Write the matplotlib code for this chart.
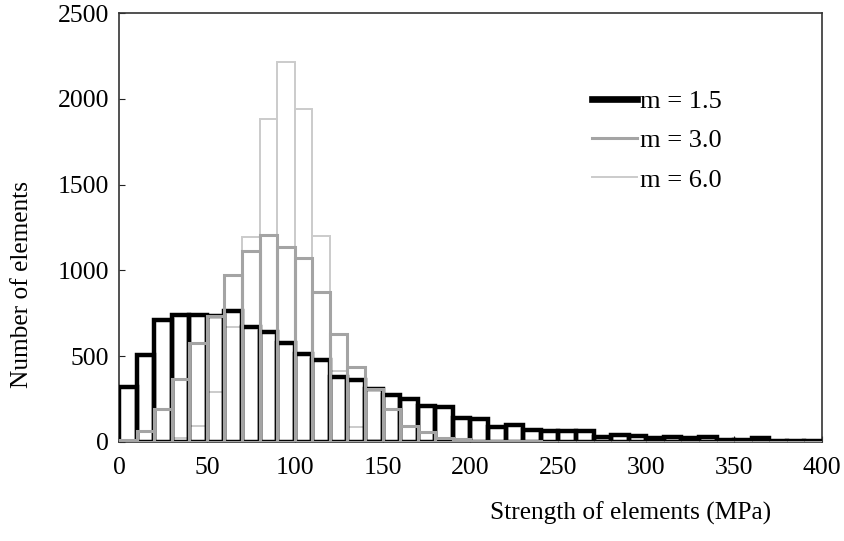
import numpy as np
import matplotlib
matplotlib.use("Agg")
import matplotlib.pyplot as plt
from matplotlib.lines import Line2D

plt.rcParams['font.family'] = ['Liberation Serif', 'DejaVu Serif']

# bins of 10 MPa from 0 to 400
bin_left = np.arange(0, 400, 10)

count_m15 = [320, 505, 710, 742, 742, 732, 760, 670, 640, 576,
             512, 476, 380, 359, 308, 274, 250, 208, 204, 136,
             130, 88, 100, 68, 62, 62, 62, 30, 39, 33,
             23, 27, 23, 25, 10, 8, 23, 5, 3, 3]
count_m30 = [8, 60, 192, 368, 576, 736, 973, 1115, 1205, 1139,
             1072, 876, 628, 434, 308, 189, 91, 55, 22, 13,
             6, 4, 3, 2, 0, 0, 0, 0, 0, 0,
             0, 0, 0, 0, 0, 0, 0, 0, 0, 0]
count_m60 = [0, 2, 5, 23, 93, 290, 671, 1193, 1884, 2213,
             1942, 1203, 410, 88, 8, 2, 0, 0, 0, 0,
             0, 0, 0, 0, 0, 0, 0, 0, 0, 0,
             0, 0, 0, 0, 0, 0, 0, 0, 0, 0]

labels = ['m = 1.5', 'm = 3.0', 'm = 6.0']
colors = ['#000000', '#a4a4a4', '#cbcbcb']
widths = [3.2, 2.2, 1.4]

fig = plt.figure(figsize=(8.45, 5.41), dpi=100)
ax = fig.add_axes([0.1408, 0.1835, 0.832, 0.7919])

ax.bar(bin_left, count_m60, width=10, align='edge', fill=False,
       edgecolor=colors[2], linewidth=widths[2], zorder=2)
ax.bar(bin_left, count_m15, width=10, align='edge', fill=False,
       edgecolor=colors[0], linewidth=widths[0], zorder=3)
ax.bar(bin_left, count_m30, width=10, align='edge', fill=False,
       edgecolor=colors[1], linewidth=widths[1], zorder=4)

ax.set_xlim(0, 400)
ax.set_ylim(0, 2500)
ax.set_xticks(np.arange(0, 401, 50))
ax.set_yticks(np.arange(0, 2501, 500))
ax.tick_params(axis='both', direction='in', length=4, width=0.8,
               labelsize=18.5, colors='#222222', labelcolor='black')
ax.tick_params(axis='x', pad=11)
ax.tick_params(axis='y', pad=7)
for s in ax.spines.values():
    s.set_linewidth(1.2)
    s.set_color('#333333')

ax.set_xlabel('Strength of elements (MPa)', fontsize=18.3)
ax.xaxis.set_label_coords(0.728, -0.14)
ax.set_ylabel('Number of elements', fontsize=18.3)
ax.yaxis.set_label_coords(-0.122, 0.366)

handles = [Line2D([0], [0], color=c, lw=w * 1.5 if i == 0 else w)
           for i, (c, w) in enumerate(zip(colors, widths))]
ax.legend(handles, labels, loc='upper left', bbox_to_anchor=(0.673, 0.822),
          frameon=False, fontsize=19, handlelength=1.7,
          handletextpad=0.1, labelspacing=0.6, borderpad=0,
          borderaxespad=0)

fig.savefig('out.png', dpi=100)
